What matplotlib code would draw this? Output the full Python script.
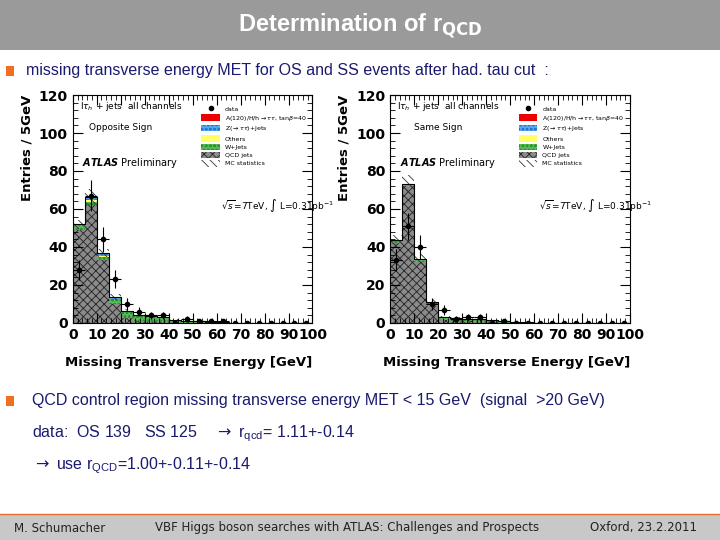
import numpy as np
import matplotlib
matplotlib.use("Agg")
import matplotlib.pyplot as plt
import matplotlib.patches as mpatches
from matplotlib.lines import Line2D

plt.rcParams["hatch.linewidth"] = 0.6
plt.rcParams["mathtext.fontset"] = "dejavusans"

edges = np.arange(0, 105, 5)
centers = edges[:-1] + 2.5

# ---- Opposite Sign ----
os_qcd = [49, 62, 33, 10, 2.5, 1, 0.5, 0.3, 0.2, 0.1, 0, 0, 0, 0, 0, 0, 0, 0, 0, 0]
os_w = [2, 1.5, 1.5, 2, 3, 2.5, 2.5, 2.5, 1.5, 1, 0.8, 0.5, 0.3, 0.2, 0.1, 0, 0, 0, 0, 0]
os_others = [0.3, 1, 0.5, 0.3, 0.2, 0.1, 0.1, 0, 0, 0, 0, 0, 0, 0, 0, 0, 0, 0, 0, 0]
os_z = [0.5, 1.5, 1.5, 1, 0.3, 0.2, 0.1, 0, 0, 0, 0, 0, 0, 0, 0, 0, 0, 0, 0, 0]
os_sig = [0.1, 0.3, 0.4, 0.3, 0.3, 0.4, 0.3, 0.2, 0.1, 0, 0, 0, 0, 0, 0, 0, 0, 0, 0, 0]
os_unc = [2.5, 4, 2, 1.5, 0.8, 0.5, 0.4, 0.3, 0.2, 0.1, 0, 0, 0, 0, 0, 0, 0, 0, 0, 0]
os_data = [28, 67, 44, 23, 10, 6, 4, 4, 0, 2, 1, 1, 1, 0, 0, 0, 0, 0, 0, 0]

# ---- Same Sign ----
ss_qcd = [42, 72, 32, 9, 1.5, 1, 0.8, 0.5, 0.3, 0.1, 0, 0, 0, 0, 0, 0, 0, 0, 0, 0]
ss_w = [1.5, 0.5, 1, 1.5, 1.5, 1.5, 1.5, 1.5, 1, 0.8, 0.5, 0.3, 0.2, 0, 0, 0, 0, 0, 0, 0]
ss_others = [0, 0.2, 0.2, 0.2, 0, 0, 0, 0, 0, 0, 0, 0, 0, 0, 0, 0, 0, 0, 0, 0]
ss_z = [0, 0.2, 0.2, 0.2, 0, 0, 0, 0, 0, 0, 0, 0, 0, 0, 0, 0, 0, 0, 0, 0]
ss_sig = [0, 0, 0, 0, 0, 0, 0, 0, 0, 0, 0, 0, 0, 0, 0, 0, 0, 0, 0, 0]
ss_unc = [3, 5, 3, 1.5, 0.5, 0.5, 0.4, 0.3, 0.2, 0.1, 0, 0, 0, 0, 0, 0, 0, 0, 0, 0]
ss_data = [33, 51, 40, 10, 7, 2, 3, 3, 0, 1, 0, 0, 0, 0, 0, 0, 0, 0, 0, 0]

fig = plt.figure(figsize=(7.2, 5.4), dpi=100)
fig.patch.set_facecolor("white")

# title bar
fig.patches.append(mpatches.Rectangle((0, 1 - 50 / 540), 1, 50 / 540, transform=fig.transFigure,
                                      facecolor="#9a9a9a", edgecolor="none"))
fig.text(0.5, 1 - 26 / 540, r"Determination of r$_{\mathbf{QCD}}$", ha="center", va="center",
         color="white", fontsize=17, fontweight="bold", family="Liberation Sans")


def bullet(x, y):
    fig.patches.append(mpatches.Rectangle((x, y - 0.009), 0.012, 0.018, transform=fig.transFigure,
                                          facecolor="#f07020", edgecolor="none"))


NAVY = "#1a1a6e"
bullet(0.008, 1 - 71 / 540)
fig.text(0.036, 1 - 71 / 540, "missing transverse energy MET for OS and SS events after had. tau cut  :",
         va="center", fontsize=11.5, color=NAVY, family="Liberation Sans")


def draw_panel(rect, qcd, w, oth, z, sig, unc, data, label):
    ax = fig.add_axes(rect)
    bottom = np.zeros(len(qcd))
    layers = [(qcd, "#8a8a8a", "xxxx", "#222222"), (w, "#55bb55", "oooo", "#2f8f2f"),
              (oth, "#ffff66", None, "#cccc00"), (z, "#55aaee", "oooo", "#2277cc"),
              (sig, "#ee0000", None, "#aa0000")]
    for vals, fc, h, ec in layers:
        vals = np.array(vals, float)
        ax.bar(centers, vals, width=5, bottom=bottom, color=fc, hatch=h, edgecolor=ec, linewidth=0)
        bottom = bottom + vals
    ax.step(edges, np.append(bottom, bottom[-1]), where="post", color="black", lw=0.8)
    unc = np.array(unc, float)
    ax.bar(centers, 2 * unc, width=5, bottom=bottom - unc, color="none", hatch="\\\\\\\\",
           edgecolor="#333333", linewidth=0)
    data = np.array(data, float)
    ax.errorbar(centers, data, xerr=2.5, yerr=np.sqrt(data), fmt="o", ms=3, color="black",
                elinewidth=0.8, capsize=0, ls="none")
    ax.set_xlim(0, 100)
    ax.set_ylim(0, 120)
    ax.set_xticks(range(0, 101, 10))
    ax.set_yticks(range(0, 121, 20))
    ax.xaxis.set_minor_locator(plt.MultipleLocator(2))
    ax.yaxis.set_minor_locator(plt.MultipleLocator(4))
    ax.tick_params(which="both", direction="in", top=True, right=True, labelsize=10)
    ax.tick_params(which="major", length=7)
    ax.tick_params(which="minor", length=3.5)
    for t in ax.get_xticklabels() + ax.get_yticklabels():
        t.set_fontweight("bold")
    ax.set_xlabel("Missing Transverse Energy [GeV]", fontsize=9.5, loc="right", labelpad=10,
                  fontweight="bold")
    ax.set_ylabel("Entries / 5GeV", fontsize=9.5, loc="top", fontweight="bold")
    ax.text(3, 114, r"l$\tau_h$ + jets  all channels", fontsize=6.5, va="center")
    ax.text(20, 103, label, fontsize=6.5, ha="center", va="center")
    ax.text(4, 84, r"$\bfit{ATLAS}$ Preliminary", fontsize=7, va="center")
    ax.text(62, 62, r"$\sqrt{s}$=7TeV, $\int$ L=0.31pb$^{-1}$", fontsize=6.5, va="center")
    handles = [Line2D([], [], marker="o", ls="none", color="black", ms=3),
               mpatches.Patch(facecolor="#ee0000"),
               mpatches.Patch(facecolor="#55aaee", hatch="oooo", edgecolor="#2277cc"),
               mpatches.Patch(facecolor="#ffff66"),
               mpatches.Patch(facecolor="#55bb55", hatch="oooo", edgecolor="#2f8f2f"),
               mpatches.Patch(facecolor="#8a8a8a", hatch="xxxx", edgecolor="#222222"),
               mpatches.Patch(facecolor="white", hatch="\\\\\\\\", edgecolor="#333333")]
    labels = ["data", r"A(120)/H/h$\to\tau\tau$, tan$\beta$=40", r"Z($\to\tau\tau$)+Jets", "Others",
              "W+Jets", "QCD jets", "MC statistics"]
    leg = ax.legend(handles, labels, loc="upper right", bbox_to_anchor=(1.0, 0.98), fontsize=4.5,
                    frameon=False, handlelength=3, handleheight=1.2, labelspacing=0.3)
    for p in leg.get_patches():
        p.set_linewidth(0)
    return ax


draw_panel([0.101, 0.402, 0.333, 0.422], os_qcd, os_w, os_others, os_z, os_sig, os_unc, os_data,
           "Opposite Sign")
draw_panel([0.542, 0.402, 0.333, 0.422], ss_qcd, ss_w, ss_others, ss_z, ss_sig, ss_unc, ss_data,
           "Same Sign")

bullet(0.008, 1 - 401 / 540)
fig.text(0.045, 1 - 401 / 540, "QCD control region missing transverse energy MET < 15 GeV  (signal  >20 GeV)",
         va="center", fontsize=11.5, color=NAVY, family="Liberation Sans")
fig.text(0.045, 1 - 434 / 540, r"data:  OS 139   SS 125    $\rightarrow$ r$_{\mathregular{qcd}}$= 1.11+-0.14",
         va="center", fontsize=11.5, color=NAVY, family="Liberation Sans")
fig.text(0.045, 1 - 466 / 540, r"$\rightarrow$ use r$_{\mathregular{QCD}}$=1.00+-0.11+-0.14",
         va="center", fontsize=11.5, color=NAVY, family="Liberation Sans")

# footer
fig.lines.append(Line2D([0, 1], [1 - 514 / 540] * 2, transform=fig.transFigure, color="#e07030", lw=1))
fig.patches.append(mpatches.Rectangle((0, 0), 1, 25 / 540, transform=fig.transFigure,
                                      facecolor="#c8c8c8", edgecolor="none"))
for x, s in [(0.02, "M. Schumacher"), (0.215, "VBF Higgs boson searches with ATLAS: Challenges and Prospects"),
             (0.82, "Oxford, 23.2.2011")]:
    fig.text(x, 12 / 540, s, va="center", fontsize=8.5, color="#222222")

fig.savefig("out.png", dpi=100)
